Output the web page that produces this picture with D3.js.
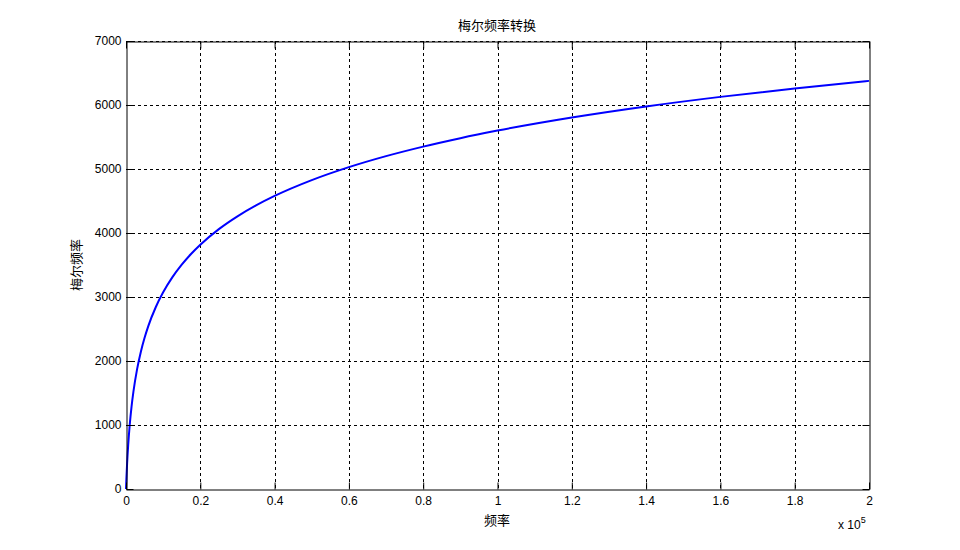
<!DOCTYPE html>
<html><head><meta charset="utf-8">
<script src="https://cdn.jsdelivr.net/npm/d3@7"></script>
<style>body{margin:0;background:#fff}svg{display:block}</style>
</head><body>
<svg id="c" width="960" height="550"></svg>
<script>
const freqHz = [0,100,300,600,1000,1500,2000,3000,4000,5000,6000,8000,10000,12500,15000,17500,20000,25000,30000,35000,40000,50000,60000,70000,80000,90000,100000,120000,140000,160000,180000,200000];
const melValues = [0,150,402,698,1000,1291,1521,1876,2146,2363,2546,2840,3073,3310,3505,3672,3817,4061,4261,4431,4579,4826,5029,5201,5350,5482,5600,5804,5977,6127,6259,6377];
const xTicks = [0,20000,40000,60000,80000,100000,120000,140000,160000,180000,200000];
const xTickLabels = ["0","0.2","0.4","0.6","0.8","1","1.2","1.4","1.6","1.8","2"];
const yTicks = [0,1000,2000,3000,4000,5000,6000,7000];
const titleText = "梅尔频率转换";
const xLabelText = "频率";
const yLabelText = "梅尔频率";

const svg = d3.select("#c");
const L=126, R=869, T=41, B=489;
const x = d3.scaleLinear().domain([0,200000]).range([L,R]);
const y = d3.scaleLinear().domain([0,7000]).range([B,T]);
const font = "'Liberation Sans', Arial, sans-serif";
const cjk = "'Noto Sans CJK SC', sans-serif";

// grid
const g = svg.append("g");
g.selectAll(".gx").data(xTicks.slice(1,-1)).enter().append("line")
  .attr("x1",d=>Math.round(x(d))+0.5).attr("x2",d=>Math.round(x(d))+0.5)
  .attr("y1",T).attr("y2",B).attr("stroke","#000").attr("stroke-width",1).attr("stroke-dasharray","3,3");
g.selectAll(".gy").data(yTicks.slice(1,-1).concat([7000])).enter().append("line")
  .attr("y1",d=>Math.round(y(d))+0.5).attr("y2",d=>Math.round(y(d))+0.5)
  .attr("x1",L).attr("x2",R).attr("stroke","#000").attr("stroke-width",1).attr("stroke-dasharray","3,3");

// curve
const line = d3.line().x((d,i)=>x(freqHz[i])).y(d=>y(d)).curve(d3.curveMonotoneX);
svg.append("path").datum(melValues).attr("d",line).attr("fill","none")
  .attr("stroke","#0000ff").attr("stroke-width",2);

// axes
const xb = d3.axisBottom(x).tickValues(xTicks).tickFormat((d,i)=>xTickLabels[i]).tickSizeInner(-7).tickSizeOuter(0).tickPadding(7);
const xt = d3.axisTop(x).tickValues(xTicks).tickFormat("").tickSizeInner(-7).tickSizeOuter(0);
const yl = d3.axisLeft(y).tickValues(yTicks).tickFormat(d3.format("d")).tickSizeInner(-7).tickSizeOuter(0).tickPadding(5);
const yr = d3.axisRight(y).tickValues(yTicks).tickFormat("").tickSizeInner(-7).tickSizeOuter(0);
function style(sel){
  sel.selectAll("path").attr("stroke","#000").attr("stroke-width",1);
  sel.selectAll("line").attr("stroke","#000");
  sel.selectAll("text").attr("fill","#000").style("font-family",font).style("font-size","12px");
}
svg.append("g").attr("transform",`translate(0,${B+0.5})`).call(xb).call(style);
svg.append("g").attr("transform",`translate(0,${T+0.5})`).call(xt).call(style);
svg.append("g").attr("transform",`translate(${L+0.5},0)`).call(yl).call(style);
svg.append("g").attr("transform",`translate(${R+0.5},0)`).call(yr).call(style);

// exponent
const ex = svg.append("text").attr("x",838).attr("y",529).attr("fill","#000")
  .style("font-family",font).style("font-size","12px");
ex.append("tspan").text("x 10");
ex.append("tspan").attr("dy",-6).style("font-size","9px").text("5");

// titles
svg.append("text").attr("x",497).attr("y",30).attr("text-anchor","middle")
  .style("font-family",cjk).style("font-size","13px").attr("fill","#000").text(titleText);
svg.append("text").attr("x",497).attr("y",525).attr("text-anchor","middle")
  .style("font-family",cjk).style("font-size","13px").attr("fill","#000").text(xLabelText);
svg.append("text").attr("transform","translate(81,265) rotate(-90)").attr("text-anchor","middle")
  .style("font-family",cjk).style("font-size","13px").attr("fill","#000").text(yLabelText);
</script>
</body></html>
